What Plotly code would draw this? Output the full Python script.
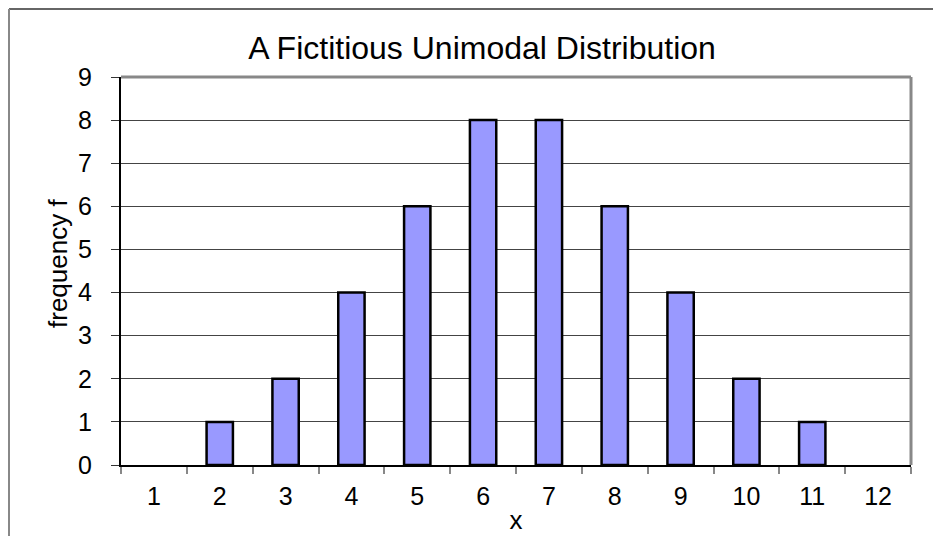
import plotly.graph_objects as go

categories = ["1", "2", "3", "4", "5", "6", "7", "8", "9", "10", "11", "12"]
frequency = [0, 1, 2, 4, 6, 8, 8, 6, 4, 2, 1, 0]
y_ticks = [0, 1, 2, 3, 4, 5, 6, 7, 8, 9]

FONT = "Liberation Sans, Arial, sans-serif"

# page body has an 8px margin; figure coordinates are screen minus 8
W, H = 933, 528
L, T = 113, 69
R, B = 30, 71
pw, ph = W - L - R, H - T - B

fig = go.Figure()
fig.add_trace(go.Bar(
    x=categories, y=frequency,
    marker=dict(color="#9999FF",
                line=dict(color="black", width=[2.5 if v > 0 else 0 for v in frequency])),
    width=0.4,
))

fig.update_layout(
    width=W, height=H,
    margin=dict(l=L, r=R, t=T, b=B, pad=0, autoexpand=False),
    paper_bgcolor="white", plot_bgcolor="white",
    showlegend=False,
    font=dict(family=FONT, color="black", size=25),
    title=dict(text="A Fictitious Unimodal Distribution", x=474 / W, xanchor="center",
               y=1 - 40 / H, yanchor="middle", font=dict(size=32, family=FONT),
               automargin=False),
    bargap=0.6,
    annotations=[dict(
        text="frequency f", textangle=-90, xref="paper", yref="paper",
        x=(50 - L) / pw, y=1 - (256 - T) / ph, xanchor="center", yanchor="middle",
        showarrow=False, font=dict(size=26, family=FONT, color="black"),
    )],
)
fig.update_xaxes(
    type="category", tickson="boundaries", ticks="outside", ticklen=7,
    tickcolor="#888", tickwidth=2, showline=True, linecolor="black", linewidth=2,
    showgrid=False, tickfont=dict(size=25), ticklabelstandoff=8,
    layer="above traces", automargin=False,
    title=dict(text="x", font=dict(size=26), standoff=2),
)
fig.update_yaxes(
    range=[0, 9], tickvals=y_ticks, ticks="outside", ticklen=8, tickcolor="#333",
    showline=True, linecolor="black", linewidth=2,
    showgrid=True, gridcolor="#444", gridwidth=1,
    tickfont=dict(size=25), zeroline=False, ticklabelstandoff=14,
    automargin=False,
)

# plot area top and right border (gray)
fig.add_shape(type="line", xref="paper", yref="paper", x0=0, x1=1, y0=1, y1=1,
              line=dict(color="#888", width=3))
fig.add_shape(type="line", xref="paper", yref="paper", x0=1, x1=1, y0=0, y1=1,
              line=dict(color="#888", width=3))
# outer chart border (top and left visible)
ox = (1 - L) / pw
oy = 1 + (T - 1) / ph
fig.add_shape(type="line", xref="paper", yref="paper", x0=ox, x1=(W + 5 - L) / pw, y0=oy, y1=oy,
              line=dict(color="#666", width=2))
fig.add_shape(type="line", xref="paper", yref="paper", x0=ox, x1=ox, y0=oy, y1=-(B + 5) / ph,
              line=dict(color="#888", width=2))

fig.write_html("out.html")
